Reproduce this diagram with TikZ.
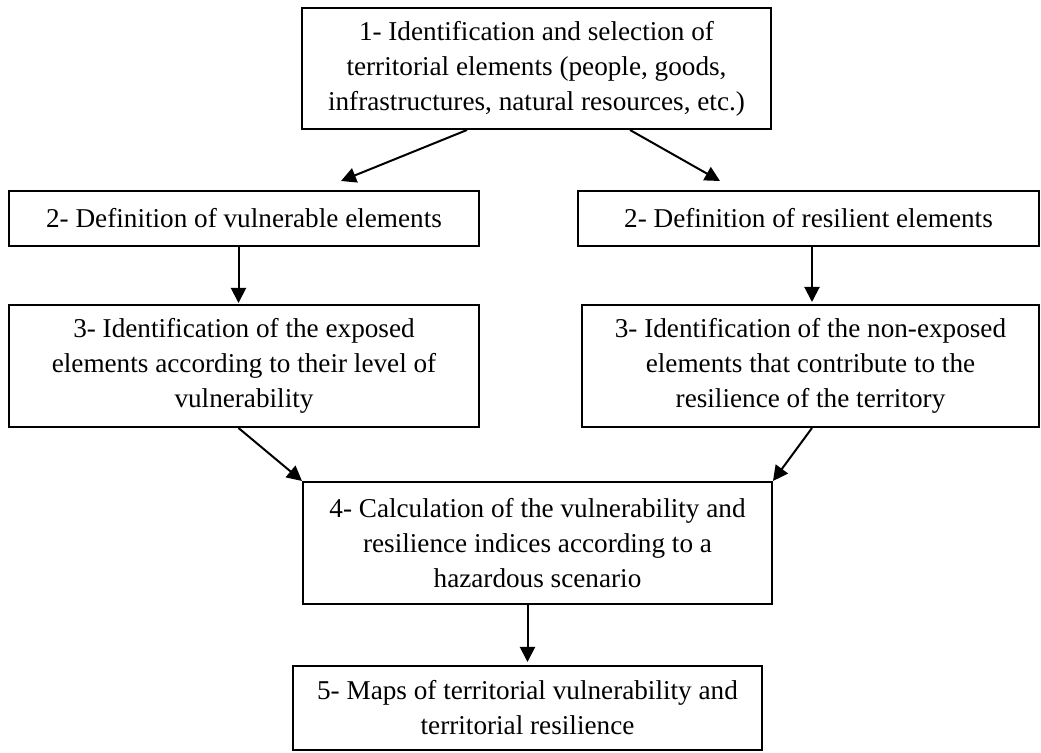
\documentclass[tikz,border=0pt]{standalone}
\usepackage{fontspec}
\setmainfont{Liberation Serif}
\usepackage{tikz}
\usetikzlibrary{arrows.meta,positioning,shapes}

\begin{document}
\begin{tikzpicture}[x=0.5pt,y=-0.5pt,
	box/.style={draw,line width=1pt,align=center,inner sep=0pt,
		font=\fontsize{13.6}{17.5}\selectfont},
	arr/.style={line width=1pt,-{Triangle[length=7.5pt,width=7.5pt]}}]
	\useasboundingbox (0,0) rectangle (1041,753);

\node[box,minimum width=234.5pt,minimum height=60.5pt] (sel) at (536.5,68.5)
	{1- Identification and selection of\\territorial elements (people, goods,\\infrastructures, natural resources, etc.)};
\node[box,minimum width=235pt,minimum height=27.5pt] (vuln) at (244,218.5)
	{2- Definition of vulnerable elements};
\node[box,minimum width=230.5pt,minimum height=27.5pt] (resil) at (808.5,218.5)
	{2- Definition of resilient elements};
\node[box,minimum width=235pt,minimum height=61pt] (expo) at (244,366)
	{3- Identification of the exposed\\elements according to their level of\\vulnerability};
\node[box,minimum width=228.5pt,minimum height=61pt] (nonexpo) at (810.5,366)
	{3- Identification of the non-exposed\\elements that contribute to the\\resilience of the territory};
\node[box,minimum width=234.5pt,minimum height=61pt] (calc) at (537.5,543)
	{4- Calculation of the vulnerability and\\resilience indices according to a\\hazardous scenario};
\node[box,minimum width=234.5pt,minimum height=42pt] (maps) at (527.5,708)
	{5- Maps of territorial vulnerability and\\territorial resilience};

\draw[arr] ([xshift=-34.75pt]sel.south) -- ([xshift=48.5pt,yshift=4.5pt]vuln.north);
\draw[arr] ([xshift=46.75pt]sel.south) -- ([xshift=-44.25pt,yshift=4.5pt]resil.north);
\draw[arr] ([xshift=-2.75pt]vuln.south) -- ([xshift=-2.75pt,yshift=0.5pt]expo.north);
\draw[arr] ([xshift=1.75pt]resil.south) -- ([xshift=0.75pt,yshift=1pt]nonexpo.north);
\draw[arr] ([xshift=-2.75pt]expo.south) -- (calc.north west);
\draw[arr] ([xshift=0.75pt]nonexpo.south) -- (calc.north east);
\draw[arr] (calc.south -| maps.north) -- ([yshift=1.5pt]maps.north);

	\end{tikzpicture}
\end{document}
